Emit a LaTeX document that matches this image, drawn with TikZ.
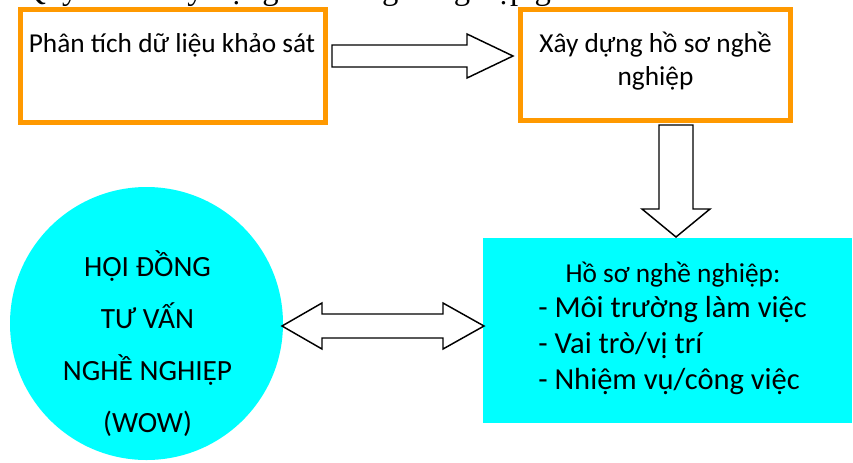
\documentclass[tikz,border=0pt]{standalone}
\usepackage{fontspec}
\setmainfont{Carlito}
\newfontfamily\titlefont{Liberation Serif}
\definecolor{orangeC}{RGB}{255,153,0}
\definecolor{cyanC}{RGB}{0,255,255}
\begin{document}
\begin{tikzpicture}[x=0.75pt,y=-0.75pt,
  obox/.style={draw=orangeC, line width=3.75pt, inner sep=0pt, fill=white},
  cbox/.style={fill=cyanC, draw=none, inner sep=0pt},
  txt/.style={inner sep=0pt, text=black},
  barrow/.style={draw=black, line width=1.1pt, fill=white, line join=miter}]
\useasboundingbox (0,0) rectangle (853,462);
% title (cut off at the top of the picture)
\node[txt, anchor=base west, font=\titlefont\fontsize{24.5pt}{29pt}\selectfont] (title) at (22,-1) {Quy trình xây dựng hồ sơ nghề nghiệp gồm};
% boxes
\node[obox, minimum width=229.1pt, minimum height=84.75pt] (b1) at (173.25,66) {};
\node[obox, minimum width=202.5pt, minimum height=83.25pt] (b2) at (655.5,65) {};
\node[cbox, minimum width=276.75pt, minimum height=138.75pt] (b3) at (667.5,330.5) {};
\node[cbox, circle, minimum size=204.75pt] (c1) at (146.5,323.5) {};
% texts (for multi-line nodes the base anchor is the last line)
\node[txt, anchor=base, font=\fontsize{20.5pt}{24.75pt}\selectfont] (t1) at (172,52) {Phân tích dữ liệu khảo sát};
\node[txt, anchor=base, align=center, font=\fontsize{20.5pt}{24.75pt}\selectfont] (t2) at (655.5,85) {Xây dựng hồ sơ nghề\\nghiệp};
\node[txt, anchor=base, font=\fontsize{20.5pt}{24.75pt}\selectfont] (t3) at (673,282) {Hồ sơ nghề nghiệp:};
\node[txt, anchor=base west, align=left, font=\fontsize{22.9pt}{27pt}\selectfont] (t4) at (538,389) {- Môi trường làm việc\\- Vai trò/vị trí\\- Nhiệm vụ/công việc};
\node[txt, anchor=base, align=center, font=\fontsize{22pt}{39pt}\selectfont] (t5) at (147.5,432) {HỘI ĐỒNG\\TƯ VẤN\\NGHỀ NGHIỆP\\(WOW)};
% block arrows
\draw[barrow] (332,45) -- (467,45) -- (467,34) -- (513,56) -- (467,78) -- (467,67) -- (332,67) -- cycle;
\draw[barrow] (659,125) -- (693,125) -- (693,209) -- (710,209) -- (676,237) -- (642,209) -- (659,209) -- cycle;
\draw[barrow] (282,326) -- (322,303) -- (322,314) -- (443,314) -- (443,303) -- (484,326) -- (443,349) -- (443,338) -- (322,338) -- (322,349) -- cycle;
\end{tikzpicture}
\end{document}
